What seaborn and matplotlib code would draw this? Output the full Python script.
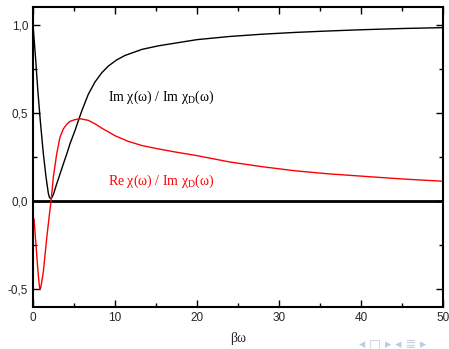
import matplotlib
matplotlib.use("Agg")
import matplotlib.pyplot as plt
import seaborn as sns
from matplotlib.ticker import FuncFormatter, MultipleLocator

# =========================
# data
# =========================
im_x = [0.0, 0.3, 0.6, 0.9, 1.26, 1.59, 1.87, 2.0, 2.16, 2.3, 2.5, 2.89, 3.3,
        3.7, 4.1, 4.51, 5.12, 5.6, 5.94, 6.74, 7.56, 8.38, 9.18, 10.2, 11.2,
        13.3, 15.3, 17.3, 20, 24, 28, 32, 36, 40, 45, 50]
im_y = [1.0, 0.82, 0.62, 0.45, 0.27, 0.136, 0.045, 0.022, 0.014, 0.02, 0.04,
        0.098, 0.155, 0.211, 0.265, 0.325, 0.40, 0.465, 0.51, 0.605, 0.675,
        0.727, 0.765, 0.80, 0.825, 0.86, 0.88, 0.895, 0.915, 0.933, 0.946,
        0.956, 0.964, 0.971, 0.978, 0.983]

re_x = [0.12, 0.37, 0.61, 0.75, 0.85, 0.95, 1.26, 1.67, 1.99, 2.2, 2.48, 2.89,
        3.29, 3.7, 4.1, 4.51, 5.12, 5.73, 6.74, 7.5, 8.38, 10, 11.6, 13.3, 15.3,
        17.3, 20, 24, 28, 32, 36, 40, 45, 50]
re_y = [-0.1, -0.25, -0.4, -0.47, -0.5, -0.49, -0.40, -0.21, -0.08, 0.0, 0.136,
        0.268, 0.362, 0.409, 0.435, 0.452, 0.462, 0.467, 0.458, 0.44, 0.414,
        0.371, 0.339, 0.315, 0.296, 0.279, 0.258, 0.222, 0.195, 0.172, 0.155,
        0.142, 0.126, 0.113]

im_label = r"Im χ(ω) / Im χ$_{\mathrm{D}}$(ω)"
re_label = r"Re χ(ω) / Im χ$_{\mathrm{D}}$(ω)"

sns.set_style("ticks")
plt.rcParams["font.family"] = ["Liberation Sans", "DejaVu Sans"]
plt.rcParams["mathtext.fontset"] = "custom"
plt.rcParams["mathtext.rm"] = "Liberation Serif"
plt.rcParams["mathtext.it"] = "Liberation Serif:italic"

fig = plt.figure(figsize=(4.49, 3.49), dpi=100)
ax = fig.add_axes([0.0735, 0.120, 0.913, 0.860])

ax.axhline(0, color="black", lw=2.0, zorder=1)
sns.lineplot(x=im_x, y=im_y, ax=ax, color="black", lw=1.0, sort=False)
sns.lineplot(x=re_x, y=re_y, ax=ax, color="red", lw=1.0, sort=False)

ax.text(9.15, 0.586, im_label, color="black", fontsize=10, va="center",
        family=["Liberation Serif"])
ax.text(9.15, 0.111, re_label, color="red", fontsize=10, va="center",
        family=["Liberation Serif"])

ax.set_xlim(0, 50)
ax.set_ylim(-0.6, 1.1)
ax.xaxis.set_major_locator(MultipleLocator(10))
ax.xaxis.set_minor_locator(MultipleLocator(5))
ax.yaxis.set_major_locator(MultipleLocator(0.5))
ax.yaxis.set_minor_locator(MultipleLocator(0.25))
ax.yaxis.set_major_formatter(FuncFormatter(lambda v, p: f"{v:.1f}".replace(".", ",")))
ax.xaxis.set_major_formatter(FuncFormatter(lambda v, p: f"{v:.0f}"))

ax.tick_params(which="both", direction="in", top=True, right=True,
               labelsize=8.5, width=1.0, color="black")
ax.tick_params(which="major", length=5)
ax.tick_params(which="minor", length=3)
for s in ax.spines.values():
    s.set_linewidth(1.5)
    s.set_color("black")

ax.set_xlabel("βω", family=["Liberation Serif"], fontsize=10, labelpad=6)
ax.set_ylabel("")

# beamer navigation symbols
fig.text(0.80, 0.005, "◂ □ ▸ ◂ ≣ ▸", color="#c5c8e0", fontsize=9,
         family=["DejaVu Sans"])

fig.savefig("out.png", dpi=100)
